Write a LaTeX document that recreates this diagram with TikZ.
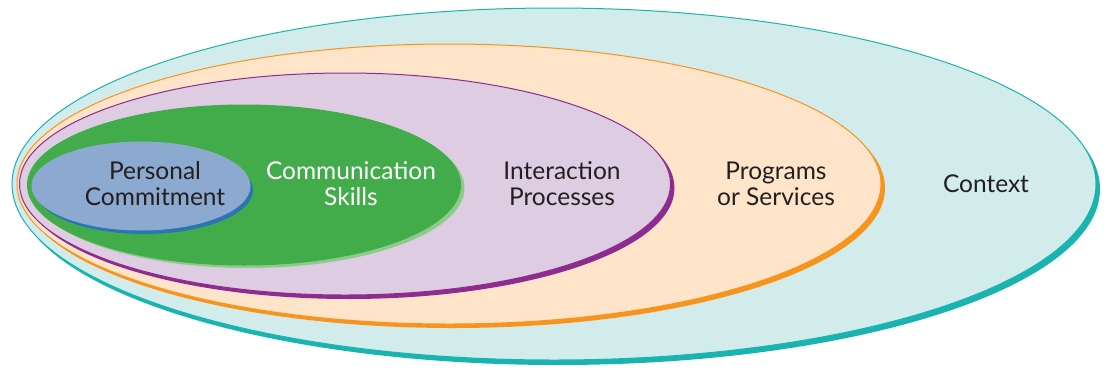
\documentclass[tikz,border=0pt]{standalone}
\usepackage{fontspec}
\setmainfont{Lato}
\usetikzlibrary{shapes.geometric, shadows, positioning}
\definecolor{contextfill}{HTML}{D2ECEB}
\definecolor{contextline}{HTML}{1AB4B0}
\definecolor{programfill}{HTML}{FEE4C9}
\definecolor{programline}{HTML}{F7941D}
\definecolor{interactfill}{HTML}{DECCE3}
\definecolor{interactline}{HTML}{8E2B8F}
\definecolor{skillfill}{HTML}{43AC4A}
\definecolor{skillline}{HTML}{8DCB8B}
\definecolor{personalfill}{HTML}{8CA9CF}
\definecolor{personalline}{HTML}{2B75B3}
\definecolor{darktext}{HTML}{231F20}
\tikzstyle{ring}=[ellipse, inner sep=0pt, line width=1pt]
\tikzstyle{ringtext}=[align=center, text=darktext, font=\fontsize{24.5}{26}\selectfont]

\begin{document}
\begin{tikzpicture}[x=1pt, y=-1pt]
		\useasboundingbox (0,0) rectangle (1108,373);
		\node(context)[ring, draw=contextline, fill=contextfill, minimum width=1084pt, minimum height=352pt, copy shadow={shadow xshift=4pt, shadow yshift=-5pt, fill=contextline, draw=none}] at (554,184) {};
		\node(programs)[ring, draw=programline, fill=programfill, minimum width=864pt, minimum height=280pt, copy shadow={shadow xshift=4pt, shadow yshift=-4pt, fill=programline, draw=none}] at (449,184) {};
		\node(interaction)[ring, draw=interactline, fill=interactfill, minimum width=651pt, minimum height=222pt, copy shadow={shadow xshift=4pt, shadow yshift=-4pt, fill=interactline, draw=none}] at (345,184) {};
		\node(skills)[ring, draw=skillfill, fill=skillfill, minimum width=433pt, minimum height=160pt, copy shadow={shadow xshift=4pt, shadow yshift=-3pt, fill=skillline, draw=none}] at (244,185) {};
		\node(personal)[ring, draw=personalfill, fill=personalfill, minimum width=218pt, minimum height=88pt, copy shadow={shadow xshift=3pt, shadow yshift=-4pt, fill=personalline, draw=none}] at (141,186) {};
		
		\node(personaltext)[ringtext] at (155,184) {Personal\\Commitment};
		\node(skillstext)[ringtext, text=white] at (351,184) {Communication\\Skills};
		\node(interactiontext)[ringtext] at (562,184) {Interaction\\Processes};
		\node(programstext)[ringtext] at (776,184) {Programs\\or Services};
		\node(contexttext)[ringtext] at (986,184) {Context};
	\end{tikzpicture}
\end{document}
